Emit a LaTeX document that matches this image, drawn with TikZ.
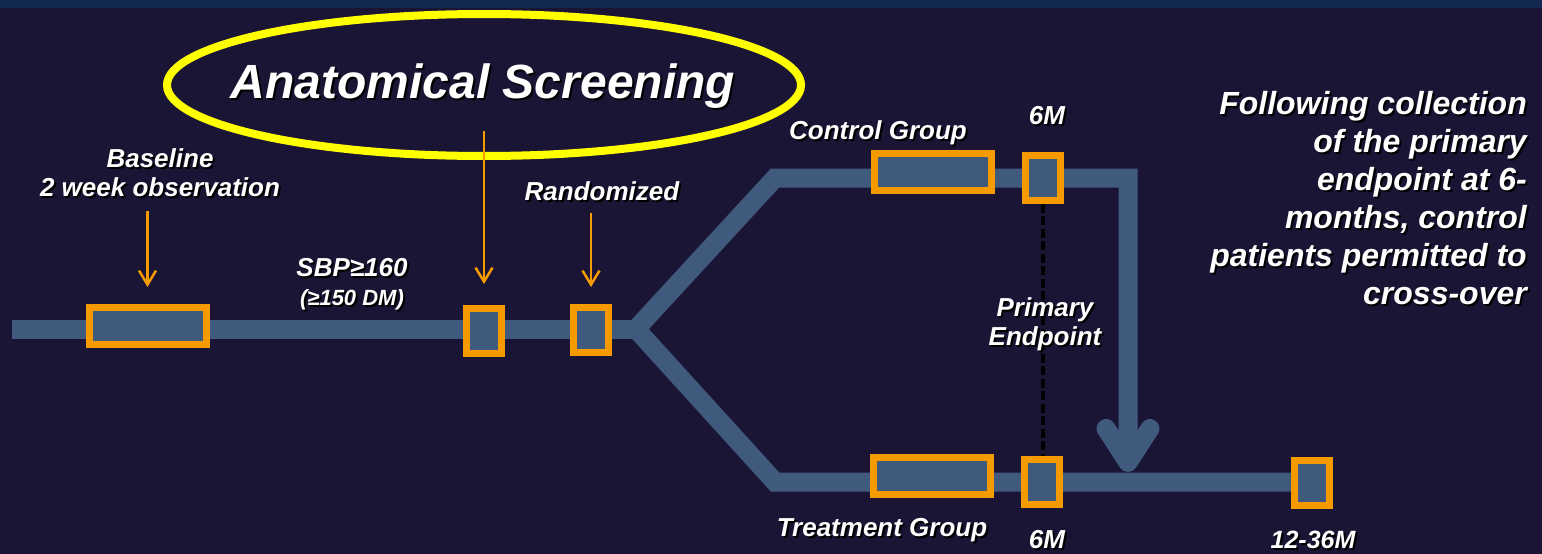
\documentclass[tikz,border=0pt]{standalone}
\usepackage{fontspec}
\setmainfont{Liberation Sans}
\usetikzlibrary{arrows.meta,shapes.geometric,positioning}
\definecolor{slideBg}{HTML}{1B1535}
\definecolor{slideBand}{HTML}{13284E}
\definecolor{trackBlue}{HTML}{405A7E}
\definecolor{boxOrange}{HTML}{F59B00}
\definecolor{ringYellow}{HTML}{FFFF00}
\newcommand{\labelfont}{\bfseries\itshape}
\newcommand{\shd}[1]{\makebox[0pt][l]{\hspace{2pt}\raisebox{-2pt}{\color{black}#1}}#1}
\tikzset{
  track/.style={draw=trackBlue,line width=19pt},
  period/.style={draw=boxOrange,fill=trackBlue,line width=7pt,minimum width=117pt,minimum height=37pt,inner sep=0pt},
  visit/.style={draw=boxOrange,fill=trackBlue,line width=7pt,minimum width=35pt,minimum height=45pt,inner sep=0pt},
  pointer/.style={draw=boxOrange,line width=2.5pt,-{Straight Barb[length=14pt,width=17pt]}},
  caption/.style={text=white,font=\labelfont\fontsize{26}{29}\selectfont,align=center,inner sep=0pt},
}

\begin{document}
\begin{tikzpicture}[x=1pt,y=-1pt]
  \useasboundingbox (0,0) rectangle (1542,554);
  \fill[slideBg] (0,0) rectangle (1542,554);
  \fill[slideBand] (0,0) rectangle (1542,8);

  \coordinate (start) at (12,329);
  \coordinate (fork) at (636,329);
  \coordinate (ctl bend) at (775,178);
  \coordinate (ctl turn) at (1128,178);
  \coordinate (cross tip) at (1128,472);
  \coordinate (trt bend) at (775,482);
  \coordinate (trt end) at (1300,482);

  \draw[track] (start) -- (fork);
  \draw[track] (fork) -- (trt bend) -- (trt end);
  \draw[track,-{Straight Barb[length=34pt,width=44pt,round]}] (fork) -- (ctl bend) -- (ctl turn) -- (cross tip);

  \node[period] (base box) at (147.5,326) {};
  \node[visit] (scr box) at (484,331) {};
  \node[visit] (rand box) at (591,330) {};
  \node[period] (ctl box) at (933,172) {};
  \node[visit] (ctl 6m) at (1043,177.5) {};
  \node[period] (trt box) at (932,476) {};
  \node[visit] (trt 6m) at (1041.5,482) {};
  \node[visit] (late box) at (1311.5,482.5) {};

  \draw[black,line width=3.5pt,dash pattern=on 9pt off 3.5pt] (ctl 6m.south) -- (ctl 6m.south |- trt 6m.north);

  \node[text=white,font=\labelfont\fontsize{48}{56}\selectfont,inner sep=0pt] (screening) at (483,87) {\shd{Anatomical Screening}};
  \draw[ringYellow,line width=8pt] (484,85) ellipse [x radius=317pt,y radius=71pt];

  \node[caption,font=\labelfont\fontsize{26}{29}\selectfont] (baseline) at (160,174) {\shd{Baseline}\\\shd{2 week observation}};
  \node[caption] (sbp) at (352,285) {\shd{SBP≥160}\\{\fontsize{22}{29}\selectfont\shd{(≥150 DM)}}};
  \node[caption] (rand) at (602,192) {\shd{Randomized}};
  \node[caption] (ctl) at (878,134) {\shd{Control Group}};
  \node[caption] (ctl 6m lbl) at (1047,117) {\shd{6M}};
  \node[caption] (primary) at (1045,325) {\shd{Primary}\\\shd{Endpoint}};
  \node[caption] (trt) at (882,531) {\shd{Treatment Group}};
  \node[caption] (trt 6m lbl) at (1047,541) {\shd{6M}};
  \node[caption,font=\labelfont\fontsize{25}{29}\selectfont] (late) at (1313,541) {\shd{12-36M}};
  \node[caption,font=\labelfont\fontsize{32}{38}\selectfont,align=right,anchor=east] (note) at (1527,199)
    {\shd{Following collection}\\\shd{of the primary}\\\shd{endpoint at 6-}\\\shd{months, control}\\\shd{patients permitted to}\\\shd{cross-over}};

  \draw[pointer,shorten <=12pt,shorten >=17pt] (baseline.south -| base box.north) -- (base box.north);
  \draw[pointer,shorten <=20pt,shorten >=21pt] (screening.south -| scr box.north) -- (scr box.north);
  \draw[pointer,shorten <=10pt,shorten >=17pt] (rand.south -| rand box.north) -- (rand box.north);
\end{tikzpicture}
\end{document}
